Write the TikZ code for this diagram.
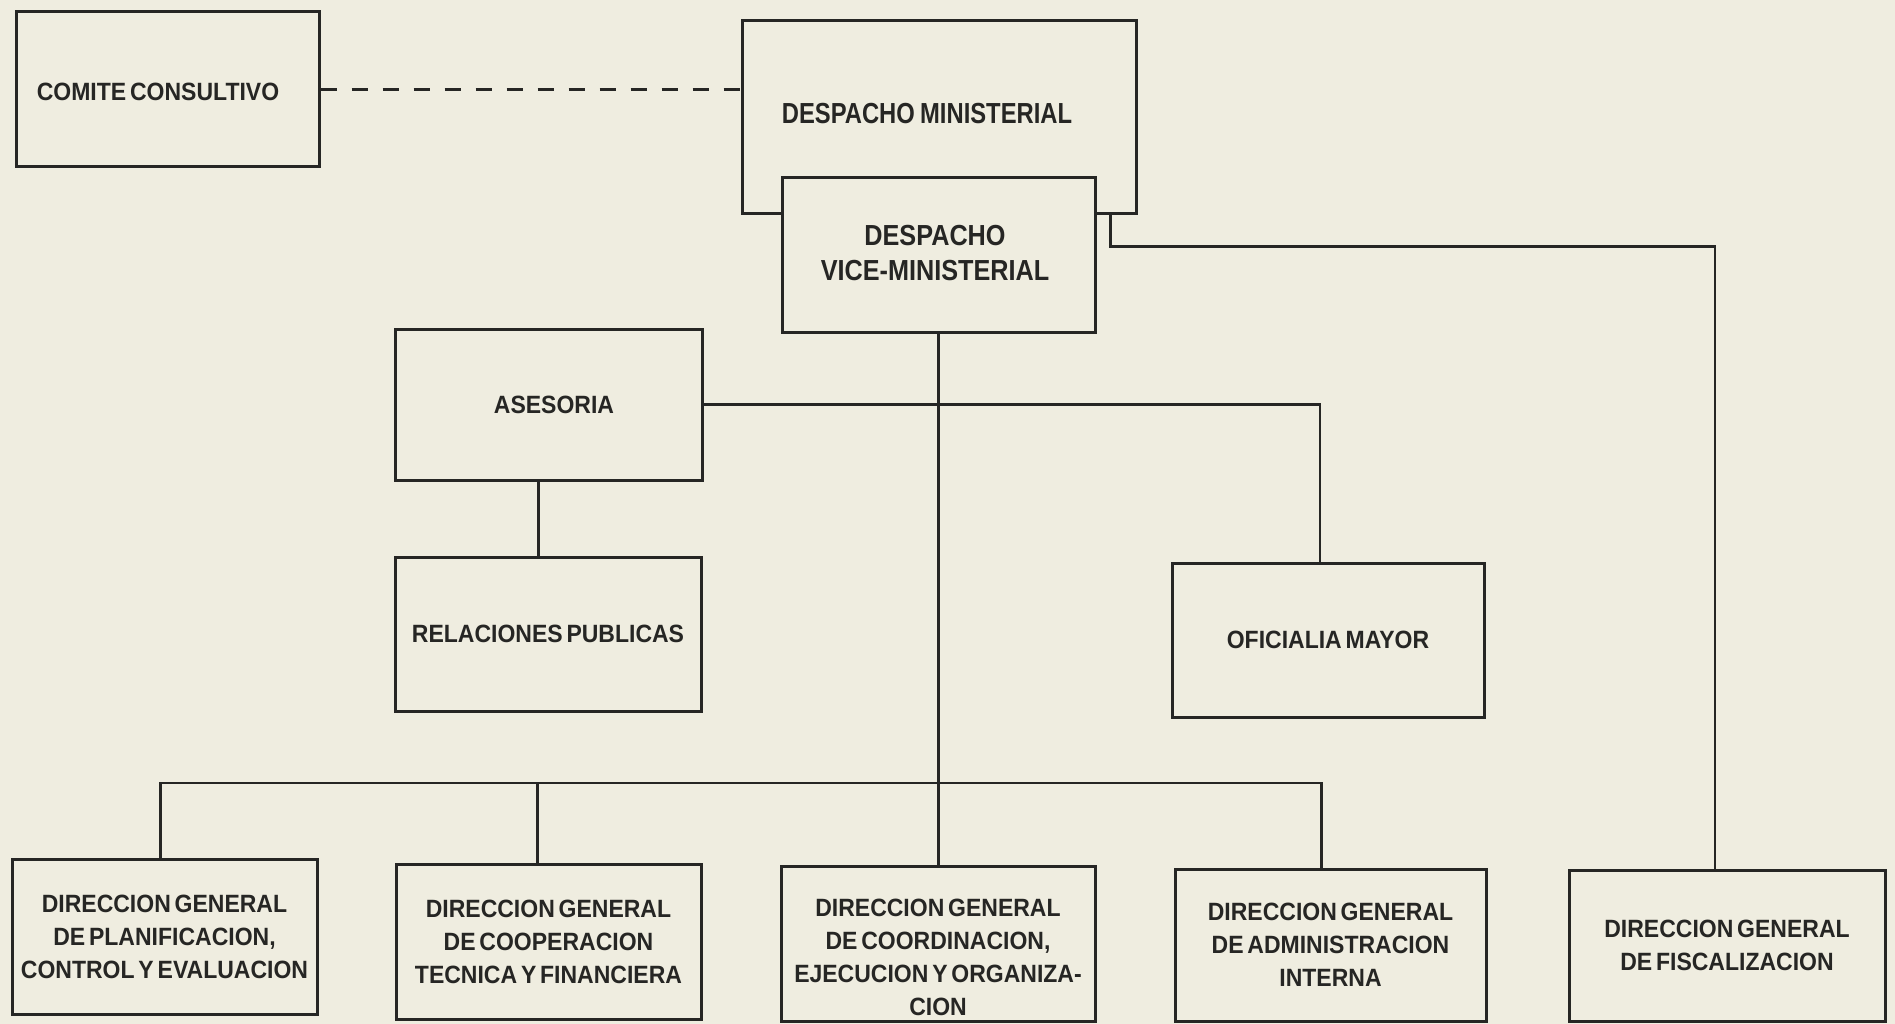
\documentclass[tikz,border=0pt]{standalone}
\usepackage{fontspec}
\newfontfamily\fa[FakeStretch=0.92,WordSpace=0.6]{Liberation Sans}
\newfontfamily\fb[FakeStretch=0.82,WordSpace=0.8]{Liberation Sans}
\newfontfamily\fc[FakeStretch=0.87]{Liberation Sans}
\definecolor{paper}{RGB}{239,237,224}
\definecolor{ink}{RGB}{38,38,36}
\begin{document}
\begin{tikzpicture}[x=1pt,y=-1pt,
  box/.style={draw=ink,line width=3pt,fill=paper,rectangle,inner sep=0pt,align=center,text=ink,
    font=\fa\bfseries\fontsize{25}{33}\selectfont},
  wire/.style={draw=ink,line width=2.4pt},
  txt/.style={inner sep=0pt,align=center,text=ink,font=\fa\bfseries\fontsize{25}{33}\selectfont}]
\fill[paper] (0,0) rectangle (1895,1024);
\useasboundingbox (0,0) rectangle (1895,1024);

\node[box,minimum width=303pt,minimum height=155pt] (comite) at (167.5,89.5) {};
\node[txt] (comitet) at (158,92) {COMITE CONSULTIVO};
\node[box,minimum width=394pt,minimum height=193pt] (dm) at (939,117.5) {};
\node[txt,font=\fb\bfseries\fontsize{29}{35}\selectfont] (dmt) at (927,114) {DESPACHO MINISTERIAL};
\node[box,minimum width=313pt,minimum height=154pt] (vice) at (938.5,255) {};
\node[txt,font=\fc\bfseries\fontsize{29}{35}\selectfont] (vicet) at (935,253) {DESPACHO\\VICE-MINISTERIAL};

\node[box,minimum width=307pt,minimum height=151pt] (ases) at (548.5,404.5) {};
\node[txt] (asest) at (554,405) {ASESORIA};
\node[box,minimum width=306pt,minimum height=154pt] (rp) at (548,634) {RELACIONES PUBLICAS};
\node[box,minimum width=312pt,minimum height=154pt] (om) at (1328,640) {OFICIALIA MAYOR};

\node[box,minimum width=305pt,minimum height=155pt] (dg1) at (164.5,936.5) {DIRECCION GENERAL\\DE PLANIFICACION,\\CONTROL Y EVALUACION};
\node[box,minimum width=305pt,minimum height=155pt] (dg2) at (548.5,941.5) {DIRECCION GENERAL\\DE COOPERACION\\TECNICA Y FINANCIERA};
\node[box,minimum width=314pt,minimum height=155pt] (dg3) at (938,943.5) {};
\node[txt] (dg3t) at (938,957) {DIRECCION GENERAL\\DE COORDINACION,\\EJECUCION Y ORGANIZA-\\CION};
\node[box,minimum width=311pt,minimum height=152pt] (dg4) at (1330.5,945) {DIRECCION GENERAL\\DE ADMINISTRACION\\INTERNA};
\node[box,minimum width=316pt,minimum height=151pt] (dg5) at (1727,945.5) {DIRECCION GENERAL\\DE FISCALIZACION};

% connectors
\draw[wire,dash pattern=on 16pt off 15pt] (comite.east) -- (comite.east -| dm.west);
\draw[wire] ([xshift=-27pt]dm.south east) -- ++(0,31) coordinate (fzk) -| ([xshift=-12pt]dg5.north);
\draw[wire] (vice.south) -- (vice.south |- dg3.north);
\draw[wire] (ases.east) -| ([xshift=-8pt]om.north);
\draw[wire] ([xshift=-10pt]ases.south) -- ([xshift=-10pt]ases.south |- rp.north);
\coordinate (bus) at (vice.south |- 0,783);
\draw[wire] ([xshift=-4pt]dg1.north) |- (bus) -| ([xshift=-9pt]dg4.north);
\draw[wire] ([xshift=-11pt]dg2.north) -- ([xshift=-11pt]dg2.north |- bus);
\end{tikzpicture}
\end{document}
